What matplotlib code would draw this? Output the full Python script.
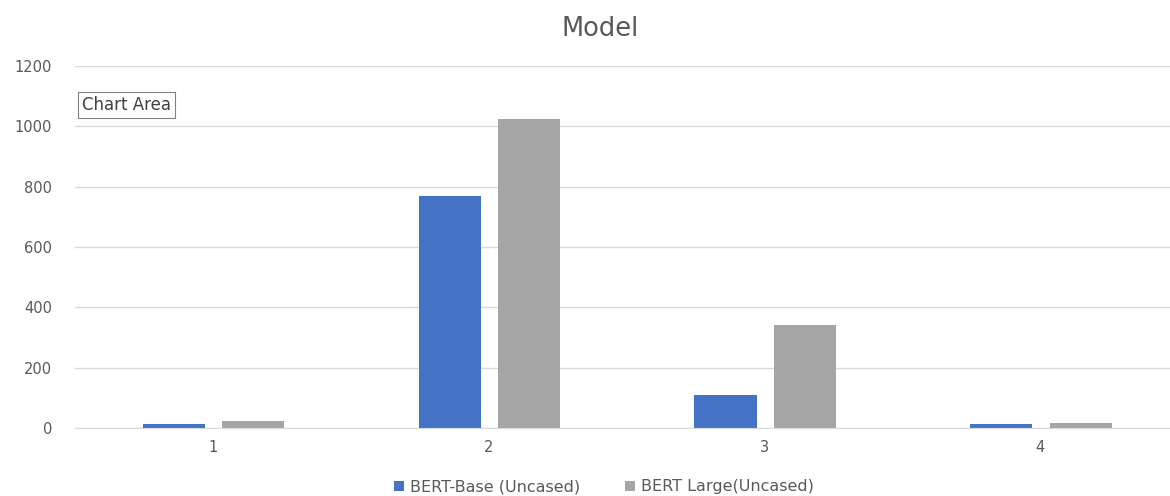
import matplotlib
matplotlib.use("Agg")
import matplotlib.pyplot as plt
import numpy as np

categories = ["1", "2", "3", "4"]
bert_base = [12, 768, 110, 12]
bert_large = [24, 1024, 340, 16]
series_names = ["BERT-Base (Uncased)", "BERT Large(Uncased)"]
colors = ["#4472C4", "#A5A5A5"]

plt.rcParams['font.family'] = ['DejaVu Sans']

fig = plt.figure(figsize=(11.7, 4.96), dpi=100)
W, H = 1170, 496
ax = fig.add_axes([75 / W, 1 - 428 / H, (1178 - 75) / W, (428 - 66) / H])

x = np.arange(len(categories))
bw = 0.225
ax.bar(x - 0.141, bert_base, bw, color=colors[0], label=series_names[0])
ax.bar(x + 0.147, bert_large, bw, color=colors[1], label=series_names[1])

ax.set_xlim(-0.5, len(categories) - 0.5)
ax.set_ylim(0, 1200)
ax.set_yticks(range(0, 1201, 200))
ax.set_xticks(x)
ax.set_xticklabels(categories)
ax.yaxis.grid(True, color="#D9D9D9", linewidth=1)
ax.set_axisbelow(True)
for s in ["top", "right", "left"]:
    ax.spines[s].set_visible(False)
ax.spines["bottom"].set_color("#D9D9D9")
ax.tick_params(axis="both", length=0, colors="#595959", labelsize=10.5)
ax.tick_params(axis="y", pad=16.5)
ax.tick_params(axis="x", pad=9)

fig.text(600 / W, 1 - 29 / H, "Model", ha="center", va="center", fontsize=18.5, color="#595959")

fig.text(82 / W, 1 - 105 / H, "Chart Area", ha="left", va="center", fontsize=12, color="#404040",
         bbox=dict(boxstyle="square,pad=0.25", facecolor="white", edgecolor="#808080", linewidth=0.8))

fig.legend(loc="center", bbox_to_anchor=(604 / W, 1 - 487 / H), ncol=2, frameon=False,
           fontsize=11.5, labelcolor="#595959", handlelength=0.6, handleheight=0.6,
           columnspacing=2.8, handletextpad=0.4)

fig.savefig("out.png", dpi=100)
